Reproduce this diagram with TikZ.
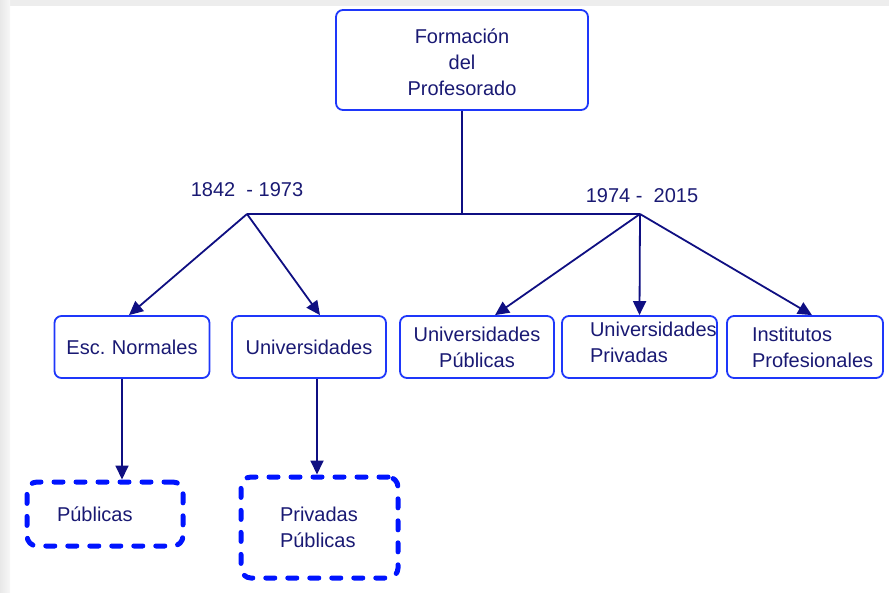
\documentclass[tikz,border=0pt]{standalone}
\usepackage{fontspec}
\setmainfont{Liberation Sans}
\usetikzlibrary{arrows.meta}
\hyphenpenalty=10000

\definecolor{textonavy}{RGB}{25,25,115}
\definecolor{lineanavy}{RGB}{15,15,130}
\definecolor{azulcaja}{RGB}{30,55,250}
\definecolor{azulpunto}{RGB}{0,20,255}

\begin{document}
\begin{tikzpicture} [x=1pt,y=-1pt,
  caja/.style={draw=azulcaja,line width=1.8pt,rounded corners=7pt,text=textonavy,
    font=\fontsize{20}{26}\selectfont,minimum height=62pt,inner ysep=2pt},
  punteada/.style={draw=azulpunto,line width=5pt,dash pattern=on 9pt off 13pt,line cap=round,
    rounded corners=10pt,text=textonavy,font=\fontsize{20}{26}\selectfont,inner ysep=2pt},
  fecha/.style={text=textonavy,font=\fontsize{20}{24}\selectfont},
  flecha/.style={lineanavy,line width=1.8pt,-{Triangle[length=14pt,width=13pt]}}]

\useasboundingbox (0,0) rectangle (889,592);
\fill[black!7] (0,0) rectangle (889,6);
\shade[left color=black!9,right color=black!3] (0,0) rectangle (10,592);

\node[caja,text width=232pt,inner xsep=10pt,minimum height=100pt,align=center] (top) at (462,60) {\strut Formación\\ del\\ Profesorado};

\coordinate (j1) at (247,214);
\coordinate (j2) at (640,214);

\node[fecha] (f1) at (247,190) {1842\ \ - 1973};
\node[fecha] (f2) at (642,196) {1974 -\ \ 2015};

\node[caja,text width=135pt,inner xsep=10pt,align=center] (esc) at (132,347) {Esc.\ Normales};
\node[caja,text width=134pt,inner xsep=10pt,align=center] (uni) at (309,347) {Universidades};
\node[caja,text width=134pt,inner xsep=10pt,align=center] (upub) at (477,347) {Universidades\\ Públicas};
\node[caja,text width=99pt,inner xsep=28pt,align=left] (upriv) at (639.5,347) {Universidades\\ Privadas\vspace{9pt}};
\node[caja,text width=106pt,inner xsep=25pt,align=left] (inst) at (805,347) {Institutos\\ Profesionales};

\node[punteada,text width=96pt,inner xsep=30pt,minimum height=64pt,align=left] (pubd) at (105,514) {Públicas};
\node[punteada,text width=79pt,inner xsep=39pt,minimum height=101pt,align=left] (privd) at (319.5,527.5) {Privadas\\ Públicas};

\draw[lineanavy,line width=1.8pt] (top.south) -- (top.south |- j1);
\draw[lineanavy,line width=1.8pt] (j1) -- (j2);

\draw[flecha] (j1) -- ([xshift=-3pt]esc.north);
\draw[flecha] (j1) -- ([xshift=11pt]uni.north);
\draw[flecha] (j2) -- ([xshift=18pt]upub.north);
\draw[flecha] (j2) -- (upriv.north);
\draw[flecha] (j2) -- ([xshift=7pt]inst.north);

\draw[flecha] ([xshift=-10pt]esc.south) -- ([xshift=-10pt]esc.south |- pubd.north);
\draw[flecha] ([xshift=8pt]uni.south) -- ([xshift=8pt]uni.south |- privd.north);

\end{tikzpicture}
\end{document}
